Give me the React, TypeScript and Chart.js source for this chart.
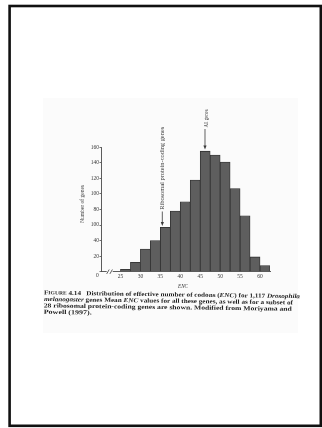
import React, { useEffect, useRef } from "react";
import { Chart, registerables } from "chart.js";

Chart.register(...registerables);

// ---- data ----
const binStarts = [25, 27.5, 30, 32.5, 35, 37.5, 40, 42.5, 45, 47.5, 50, 52.5, 55, 57.5, 60];
const geneCounts = [3, 12, 29, 40, 57, 78, 90, 118, 155, 150, 141, 107, 72, 19, 8];
const binWidth = 2.5;
const xTickValues = [25, 30, 35, 40, 45, 50, 55, 60];
const yTickValues = [0, 20, 40, 60, 80, 100, 120, 140, 160];
const yTickLabels = ["", "20", "40", "100", "80", "100", "120", "140", "160"];
const xTitle = "ENC";
const yTitle = "Number of genes";
const ribosomalLabel = "Ribosomal protein-coding genes";
const ribosomalEnc = 35.5;
const ribosomalCount = 57;
const allGenesLabel = "All genes";
const allGenesEnc = 46.2;
const allGenesCount = 155;

type Seg = { t: string; italic?: boolean; small?: boolean };
const captionLines: Seg[][] = [
  [
    { t: "F" },
    { t: "IGURE", small: true },
    { t: " 4.14   Distribution of effective number of codons (" },
    { t: "ENC", italic: true },
    { t: ") for 1,117 " },
    { t: "Drosophila", italic: true },
  ],
  [
    { t: "melanogaster", italic: true },
    { t: " genes Mean " },
    { t: "ENC", italic: true },
    { t: " values for all these genes, as well as for a subset of" },
  ],
  [{ t: "28 ribosomal protein-coding genes are shown. Modified from Moriyama and" }],
  [{ t: "Powell (1997)." }],
];
const captionWidths = [256, 249, 248, 48];

const SERIF = '"Liberation Serif", "Times New Roman", serif';

function drawFitted(ctx: CanvasRenderingContext2D, text: string, x: number, y: number, target: number) {
  const w = ctx.measureText(text).width;
  ctx.save();
  ctx.translate(x, y);
  ctx.scale(target / w, 1);
  ctx.textAlign = "center";
  ctx.textBaseline = "middle";
  ctx.fillText(text, 0, 0);
  ctx.restore();
}

function segFont(s: Seg, size: number) {
  const sz = s.small ? size * 0.78 : size;
  return `${s.italic ? "italic " : ""}bold ${sz}px ${SERIF}`;
}

function drawArrow(ctx: CanvasRenderingContext2D, x: number, y0: number, y1: number) {
  ctx.beginPath();
  ctx.moveTo(x, y0);
  ctx.lineTo(x, y1 - 3);
  ctx.stroke();
  ctx.beginPath();
  ctx.moveTo(x - 1.6, y1 - 4);
  ctx.lineTo(x + 1.6, y1 - 4);
  ctx.lineTo(x, y1);
  ctx.closePath();
  ctx.fill();
}

const pagePlugin = {
  id: "page",
  beforeDraw(chart: any) {
    const ctx: CanvasRenderingContext2D = chart.ctx;
    ctx.save();
    ctx.fillStyle = "#ffffff";
    ctx.fillRect(0, 0, chart.width, chart.height);
    ctx.fillStyle = "#fbfbfb";
    ctx.fillRect(43, 98, 255, 235);
    ctx.strokeStyle = "#111";
    ctx.lineWidth = 2.6;
    ctx.strokeRect(9.6, 6, 311.2, 419.8);
    ctx.restore();
  },
  afterDraw(chart: any) {
    const ctx: CanvasRenderingContext2D = chart.ctx;
    const xs = chart.scales.x;
    const ys = chart.scales.y;
    const area = chart.chartArea;
    ctx.save();
    ctx.fillStyle = "#3a3a3a";
    ctx.strokeStyle = "#3a3a3a";
    ctx.lineWidth = 0.8;

    // origin label "0"
    ctx.font = `5.5px ${SERIF}`;
    ctx.textAlign = "center";
    ctx.textBaseline = "middle";
    ctx.fillText("0", area.left - 4.4, area.bottom + 4);

    // axis break //
    ctx.fillStyle = "#fbfbfb";
    ctx.fillRect(area.left + 5, area.bottom - 1, 6, 2);
    ctx.fillStyle = "#3a3a3a";
    ctx.beginPath();
    ctx.moveTo(area.left + 5, area.bottom + 2.2);
    ctx.lineTo(area.left + 7.5, area.bottom - 2.2);
    ctx.moveTo(area.left + 8.2, area.bottom + 2.2);
    ctx.lineTo(area.left + 10.7, area.bottom - 2.2);
    ctx.stroke();

    // axis titles
    ctx.font = `italic 5.5px ${SERIF}`;
    drawFitted(ctx, xTitle, 183, area.bottom + 14.5, 10);
    ctx.save();
    ctx.translate(83, 204);
    ctx.rotate(-Math.PI / 2);
    ctx.font = `5.5px ${SERIF}`;
    drawFitted(ctx, yTitle, 0, 0, 38);
    ctx.restore();

    // annotations
    const rx = xs.getPixelForValue(ribosomalEnc);
    const rTop = ys.getPixelForValue(ribosomalCount);
    ctx.save();
    ctx.translate(rx + 0.5, 168.3);
    ctx.rotate(-Math.PI / 2);
    ctx.font = `6px ${SERIF}`;
    drawFitted(ctx, ribosomalLabel, 0, 0, 83);
    ctx.restore();
    drawArrow(ctx, rx, 211.5, rTop - 1.5);

    const ax = xs.getPixelForValue(allGenesEnc);
    const aTop = ys.getPixelForValue(allGenesCount);
    ctx.save();
    ctx.translate(ax + 1.5, 118.5);
    ctx.rotate(-Math.PI / 2);
    ctx.font = `5.5px ${SERIF}`;
    drawFitted(ctx, allGenesLabel, 0, 0, 18);
    ctx.restore();
    drawArrow(ctx, ax, 129, aTop - 1.8);

    // caption
    ctx.save();
    ctx.translate(44, 293);
    ctx.rotate((0.8 * Math.PI) / 180);
    ctx.fillStyle = "#1e1e1e";
    ctx.textBaseline = "middle";
    ctx.textAlign = "left";
    const size = 6.2;
    captionLines.forEach((segs, i) => {
      let total = 0;
      segs.forEach((s) => {
        ctx.font = segFont(s, size);
        total += ctx.measureText(s.t).width;
      });
      const k = captionWidths[i] / total;
      ctx.save();
      ctx.translate(0, i * 6.4);
      ctx.scale(k, 1);
      let x = 0;
      segs.forEach((s) => {
        ctx.font = segFont(s, size);
        ctx.fillText(s.t, x, 0);
        x += ctx.measureText(s.t).width;
      });
      ctx.restore();
    });
    ctx.restore();

    ctx.restore();
  },
};

export default function App() {
  const ref = useRef<HTMLCanvasElement | null>(null);

  useEffect(() => {
    if (!ref.current) return;
    const chart = new Chart(ref.current, {
      type: "bar",
      data: {
        datasets: [
          {
            data: binStarts.map((s, i) => ({ x: s + binWidth / 2, y: geneCounts[i] })),
            backgroundColor: "#5e5e5e",
            borderColor: "#2e2e2e",
            borderWidth: 0.8,
            categoryPercentage: 1,
            barPercentage: 1,
          },
        ],
      },
      options: {
        animation: false,
        responsive: false,
        devicePixelRatio: 1,
        layout: { padding: { top: 147.3, right: 52, bottom: 0, left: 0 } },
        plugins: { legend: { display: false }, tooltip: { enabled: false } },
        scales: {
          x: {
            type: "linear",
            min: 20.3,
            max: 62.5,
            offset: false,
            afterFit: (scale: any) => {
              scale.height = 428 - 271.7;
            },
            afterBuildTicks: (scale: any) => {
              scale.ticks = xTickValues.map((v) => ({ value: v }));
            },
            grid: { display: false, drawTicks: false },
            border: { display: true, color: "#4a4a4a", width: 0.9 },
            ticks: {
              autoSkip: false,
              maxRotation: 0,
              padding: 2,
              color: "#3a3a3a",
              font: { family: SERIF, size: 5.5 },
              callback: (v: any) => String(v),
            },
          },
          y: {
            type: "linear",
            min: 0,
            max: 160,
            afterFit: (scale: any) => {
              scale.width = 101.7;
            },
            afterBuildTicks: (scale: any) => {
              scale.ticks = yTickValues.map((v) => ({ value: v }));
            },
            grid: {
              display: true,
              drawOnChartArea: false,
              drawTicks: true,
              tickLength: 2.2,
              tickWidth: 0.8,
              tickColor: "#4a4a4a",
            },
            border: { display: true, color: "#4a4a4a", width: 0.9 },
            ticks: {
              autoSkip: false,
              padding: 0.5,
              color: "#3a3a3a",
              font: { family: SERIF, size: 5.5 },
              callback: (v: any) => {
                const idx = yTickValues.indexOf(Number(v));
                return idx >= 0 ? yTickLabels[idx] : "";
              },
            },
          },
        },
      },
      plugins: [pagePlugin],
    } as any);
    return () => chart.destroy();
  }, []);

  return (
    <div style={{ position: "fixed", left: 0, top: 0, width: 322, height: 428 }}>
      <canvas ref={ref} width={322} height={428} style={{ display: "block", width: 322, height: 428 }} />
    </div>
  );
}
